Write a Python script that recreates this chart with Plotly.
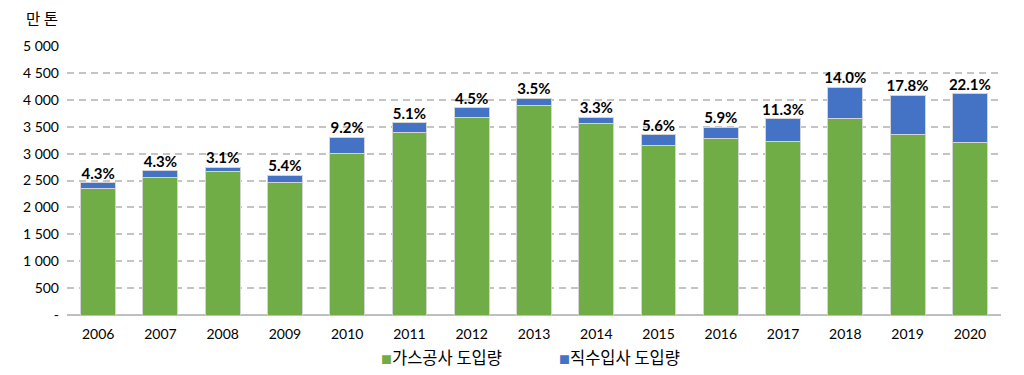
import plotly.graph_objects as go

years = ["2006", "2007", "2008", "2009", "2010", "2011", "2012", "2013", "2014", "2015", "2016", "2017", "2018", "2019", "2020"]
kogas = [2355, 2562, 2665, 2462, 3004, 3387, 3675, 3892, 3559, 3159, 3288, 3232, 3645, 3358, 3200]
direct = [106, 115, 85, 140, 304, 182, 173, 141, 121, 187, 206, 412, 593, 728, 908]
pct_labels = ["4.3%", "4.3%", "3.1%", "5.4%", "9.2%", "5.1%", "4.5%", "3.5%", "3.3%", "5.6%", "5.9%", "11.3%", "14.0%", "17.8%", "22.1%"]
y_tickvals = [0, 500, 1000, 1500, 2000, 2500, 3000, 3500, 4000, 4500, 5000]
y_ticktext = ["-", "500", "1 000", "1 500", "2 000", "2 500", "3 000", "3 500", "4 000", "4 500", "5 000"]
series_names = ["가스공사 도입량", "직수입사 도입량"]
series_colors = ["#70AD47", "#4472C4"]

FONT = "Lato, Noto Sans CJK KR"
KFONT = "Noto Sans CJK KR"
totals = [a + b for a, b in zip(kogas, direct)]

# page offset (default body margin) of 8px
OFF = 8
ML, MR, MT, MB = 67 - OFF, 1024 - 1001 + OFF, 46 - OFF, 375 - 315 + OFF
PW = 1024 - ML - MR
PH = 375 - MT - MB


def px_to_paper(xp, yp):
    return ((xp - OFF) - ML) / PW, (375 - MB - (yp - OFF)) / PH


fig = go.Figure()
fig.add_trace(go.Bar(x=years, y=kogas, name=series_names[0],
                     marker=dict(color=series_colors[0], line=dict(color="#D4D4D4", width=1))))
fig.add_trace(go.Bar(x=years, y=direct, name=series_names[1],
                     marker=dict(color=series_colors[1], line=dict(color="#D4D4D4", width=1))))
fig.add_trace(go.Scatter(x=years, y=totals, mode="text", text=pct_labels,
                         textposition="top center", showlegend=False, hoverinfo="skip",
                         textfont=dict(family=FONT, size=15, color="#000000", weight="bold")))

anns = []
for name, color, xpos in zip(series_names, series_colors, [379, 557]):
    x, y = px_to_paper(xpos, 357)
    anns.append(dict(
        text=f"<span style='color:{color};font-size:11px'>■</span>{name}",
        x=x, y=y, xref="paper", yref="paper", showarrow=False,
        xanchor="left", yanchor="middle", font=dict(family=KFONT, size=16.5, color="#000000")))
x, y = px_to_paper(42, 18)
anns.append(dict(text="만 톤", x=x, y=y, xref="paper", yref="paper",
                 showarrow=False, xanchor="center", yanchor="middle",
                 font=dict(family=KFONT, size=15.5, color="#000000")))

fig.update_layout(
    width=1024, height=375,
    barmode="stack", bargap=0.44,
    plot_bgcolor="white", paper_bgcolor="white",
    margin=dict(l=ML, r=MR, t=MT, b=MB, autoexpand=False),
    font=dict(family=FONT, size=14, color="#000000"),
    showlegend=False,
    annotations=anns,
)

fig.update_xaxes(range=[-0.5, 14.5], showline=False, ticks="", zeroline=False,
                 tickfont=dict(size=14), ticklabelstandoff=9)
fig.update_yaxes(range=[0, 5000], tickvals=y_tickvals, ticktext=y_ticktext,
                 showgrid=True, gridcolor="#C4C4C4", griddash="7px,5px", gridwidth=2,
                 zeroline=True, zerolinecolor="#BFBFBF", zerolinewidth=2,
                 ticks="", tickfont=dict(size=14), ticklabelstandoff=7)

fig.write_html("out.html")
